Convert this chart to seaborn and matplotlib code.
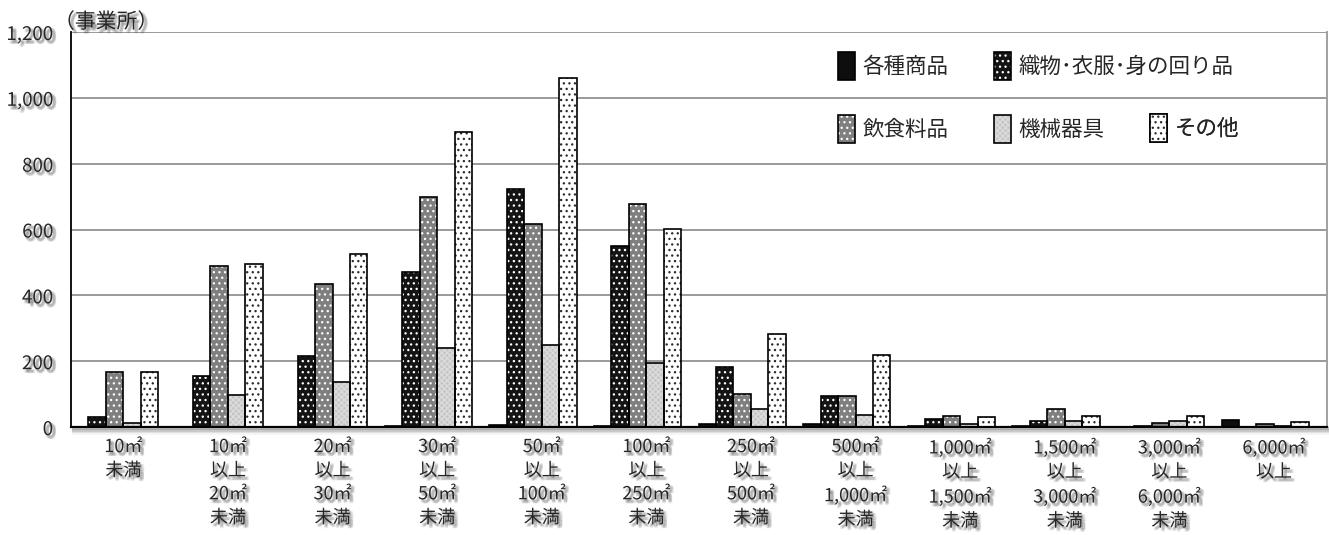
import numpy as np
import pandas as pd
import matplotlib
matplotlib.use("Agg")
import matplotlib.pyplot as plt
import matplotlib.patheffects as pe
from matplotlib.patches import Patch, Rectangle
import seaborn as sns

# 売場面積規模別・業種別の事業所数
size_labels = [
    "10㎡\n未満",
    "10㎡\n以上\n20㎡\n未満",
    "20㎡\n以上\n30㎡\n未満",
    "30㎡\n以上\n50㎡\n未満",
    "50㎡\n以上\n100㎡\n未満",
    "100㎡\n以上\n250㎡\n未満",
    "250㎡\n以上\n500㎡\n未満",
    "500㎡\n以上\n1,000㎡\n未満",
    "1,000㎡\n以上\n1,500㎡\n未満",
    "1,500㎡\n以上\n3,000㎡\n未満",
    "3,000㎡\n以上\n6,000㎡\n未満",
    "6,000㎡\n以上",
]
industries = ["各種商品", "織物･衣服･身の回り品", "飲食料品", "機械器具", "その他"]

kakushu = [0, 0, 0, 3, 5, 3, 8, 9, 3, 2, 1, 22]
orimono = [31, 155, 216, 472, 723, 549, 183, 94, 24, 17, 3, 0]
inshoku = [168, 488, 433, 700, 617, 678, 100, 94, 32, 56, 11, 8]
kikai = [13, 97, 136, 241, 248, 194, 56, 35, 8, 17, 17, 4]
sonota = [168, 496, 525, 896, 1060, 602, 282, 220, 29, 32, 32, 14]

y_ticks = [0, 200, 400, 600, 800, 1000, 1200]

series = dict(zip(industries, [kakushu, orimono, inshoku, kikai, sonota]))
df = pd.DataFrame(
    [(lab, ind, v) for ind, vals in series.items() for lab, v in zip(size_labels, vals)],
    columns=["area", "industry", "count"],
)

sns.set_style("white")
plt.rcParams["font.family"] = ["Noto Sans CJK JP", "DejaVu Sans"]
plt.rcParams["hatch.linewidth"] = 0.9

# fill colour, hatch and hatch colour for every industry
styles = {
    "各種商品": dict(face="#0e0e0e", hatch=None, hcolor="#0e0e0e"),
    "織物･衣服･身の回り品": dict(face="#141414", hatch="...", hcolor="#ffffff"),
    "飲食料品": dict(face="#7f7f7f", hatch="...", hcolor="#ffffff"),
    "機械器具": dict(face="#c6c6c6", hatch="xxxxxx", hcolor="#dcdcdc"),
    "その他": dict(face="#ffffff", hatch="...", hcolor="#2a2a2a"),
}
palette = {k: v["face"] for k, v in styles.items()}

W, H = 1329, 535
fig = plt.figure(figsize=(W / 100, H / 100), dpi=100)
ax = fig.add_axes([71 / W, 1 - 427 / H, (1327 - 71) / W, (427 - 32) / H])

sns.barplot(
    data=df, x="area", y="count", hue="industry",
    order=size_labels, hue_order=industries, palette=palette,
    width=5 / 6, saturation=1, linewidth=0, legend=False, ax=ax, zorder=2,
)

for name, cont in zip(industries, ax.containers):
    st = styles[name]
    for p in cont.patches:
        p.set_edgecolor(st["hcolor"])
        p.set_linewidth(0)
        if st["hatch"]:
            p.set_hatch(st["hatch"])
        ax.add_patch(Rectangle(p.get_xy(), p.get_width(), p.get_height(),
                               fill=False, edgecolor="black", linewidth=1.2, zorder=2.5))


def soft_shadow(dx=2.0, dy=-2.0, alpha=0.07):
    effects = []
    for ox in (-0.8, 0, 0.8):
        for oy in (-0.8, 0, 0.8):
            effects.append(pe.SimplePatchShadow(offset=(dx + ox, dy + oy),
                                                shadow_rgbFace="black", alpha=alpha))
    effects.append(pe.Normal())
    return effects


# axes
ax.set_xlim(-5 / 12, -5 / 12 + 1256 / 104.6)
ax.set_ylim(0, 1200)
ax.set_yticks(y_ticks)
ax.set_yticklabels([f"{v:,}" for v in y_ticks])
ax.set_xticks(np.arange(len(size_labels)) + 1 / 12)
ax.set_xticklabels(size_labels)
ax.set_xlabel("")
ax.set_ylabel("")

ax.tick_params(axis="x", length=0, pad=8, labelsize=13)
ax.tick_params(axis="y", length=5, width=1.2, color="black", pad=8, labelsize=13.5, direction="out")
for t in ax.get_xticklabels():
    t.set_linespacing(1.4)
    t.set_path_effects(soft_shadow())
for t in ax.get_yticklabels():
    t.set_path_effects(soft_shadow())

ax.yaxis.grid(True, color="#9a9a9a", linewidth=1.4)
ax.xaxis.grid(False)
ax.set_axisbelow(True)

ax.spines["top"].set_visible(False)
ax.spines["left"].set_color("black")
ax.spines["left"].set_linewidth(1.3)
ax.spines["bottom"].set_color("black")
ax.spines["bottom"].set_linewidth(1.6)
ax.spines["bottom"].set_path_effects(
    [pe.SimpleLineShadow(offset=(1.5, -k), shadow_color="black", alpha=a, linewidth=2.2)
     for k, a in ((1.0, 0.22), (2.0, 0.14), (3.0, 0.08), (4.0, 0.04))]
    + [pe.Normal()]
)
ax.spines["right"].set_color("#a0a0a0")
ax.spines["right"].set_linewidth(1.4)

fig.text(54 / W, 1 - 33 / H, "（事業所）", fontsize=15, ha="left", va="bottom",
         path_effects=soft_shadow())


# legend: three columns placed side by side
def handle(name):
    st = styles[name]
    fill_p = Patch(facecolor=st["face"], edgecolor=st["hcolor"], hatch=st["hatch"], linewidth=0)
    edge_p = Patch(fill=False, edgecolor="black", linewidth=1.2)
    return (fill_p, edge_p)


legend_columns = [
    (838, 52, ["各種商品", "飲食料品"]),
    (994, 52, ["織物･衣服･身の回り品", "機械器具"]),
    (1150, 114, ["その他"]),
]
for x, ytop, names in legend_columns:
    leg = ax.legend(
        [handle(n) for n in names], names,
        loc="upper left", bbox_to_anchor=(x / W, 1 - ytop / H), bbox_transform=fig.transFigure,
        frameon=False, fontsize=15.5, handlelength=0.8, handleheight=1.65,
        handletextpad=0.35, labelspacing=1.6, borderpad=0, borderaxespad=0,
    )
    ax.add_artist(leg)

fig.savefig("out.png", dpi=100)
